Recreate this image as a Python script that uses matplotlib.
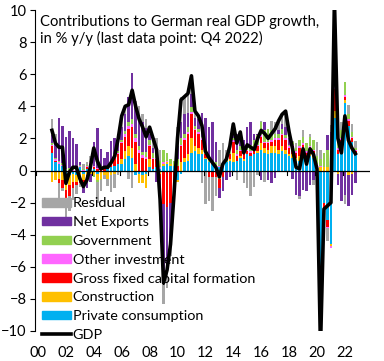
import numpy as np
import matplotlib
matplotlib.use("Agg")
import matplotlib.pyplot as plt
from matplotlib.patches import Patch
from matplotlib.lines import Line2D

plt.rcParams['font.family'] = ['Lato', 'DejaVu Sans']

# Quarterly data Q1 2001 .. Q4 2022 (contributions in pp, GDP in % y/y)
start_year = 2001
private_consumption = [1.1,0.5,0.4,0.3,-0.4,-0.3,-0.2,-0.3,0.2,-0.2,0.1,0.2,
 0.1,-0.2,-0.1,0.0,0.1,0.2,0.3,0.4,0.4,0.7,0.9,0.8,
 -0.3,-0.2,-0.3,-0.2,0.2,0.1,0.2,0.1,0.3,0.4,0.3,0.3,
 -0.6,-0.2,0.5,0.6,1.1,1.2,1.0,1.0,0.7,0.5,0.4,0.3,
 0.2,0.4,0.5,0.6,0.5,0.6,0.8,0.6,1.0,0.9,1.0,1.1,
 1.3,1.1,1.0,1.1,1.1,1.0,1.2,1.0,0.9,0.8,0.6,0.6,
 0.9,0.7,0.9,0.8,-0.5,-7.0,-2.0,-3.1,-4.55,3.3,1.0,1.6,
 4.2,2.8,1.8,1.0]
construction = [-0.7,-0.6,-0.5,-0.6,-0.8,-0.6,-0.5,-0.4,-0.5,-0.4,-0.3,-0.2,
 -0.3,-0.4,-0.4,-0.3,-0.5,-0.3,-0.2,0.0,0.3,0.5,0.6,0.6,
 0.4,-0.6,-0.5,-0.9,0.5,0.0,-0.1,-0.2,0.1,0.1,0.1,0.0,
 -0.1,0.5,0.3,0.4,0.9,0.3,0.4,0.3,0.1,-0.1,0.0,0.0,
 -0.5,-0.1,0.0,0.1,0.6,0.0,0.1,0.1,-0.1,0.0,0.0,0.1,
 0.4,0.3,0.3,0.4,0.4,0.3,0.3,0.3,0.1,0.2,0.2,0.3,
 0.3,0.1,0.2,0.2,0.3,0.2,0.2,0.2,-0.15,0.4,-0.2,-0.1,
 0.2,-0.3,-0.2,-0.1]
gross_fixed_capital = [0.4,0.1,-0.3,-0.5,-0.8,-0.7,-0.4,-0.2,-0.3,-0.2,0.1,0.2,
 0.1,0.1,0.2,0.2,0.1,0.3,0.5,0.6,1.0,0.9,1.1,1.3,
 1.4,1.1,0.8,0.7,0.8,0.6,0.5,-0.3,-2.1,-2.3,-2.0,-1.4,
 0.3,1.0,1.1,1.3,1.5,1.0,0.9,0.6,0.2,-0.3,-0.4,-0.4,
 -0.6,-0.3,0.0,0.3,0.7,0.3,0.3,0.3,0.2,0.2,0.3,0.3,
 0.4,0.3,0.4,0.3,0.4,0.6,0.7,0.6,0.4,0.5,0.3,0.5,
 0.4,0.3,0.3,0.2,-0.3,-1.5,-0.7,-0.45,0.4,1.4,0.3,0.3,
 0.2,0.3,0.2,0.2]
other_investment = [0.1,0.1,0.1,0.05,0.0,0.05,0.05,0.05,0.05,0.05,0.05,0.1,
 0.05,0.05,0.05,0.05,0.05,0.05,0.1,0.1,0.1,0.15,0.15,0.2,
 0.2,0.2,0.15,0.15,0.1,0.1,0.1,0.1,0.1,0.1,0.0,0.0,
 0.0,0.1,0.1,0.1,0.15,0.1,0.1,0.1,0.05,0.05,0.05,0.05,
 0.05,0.05,0.05,0.05,0.1,0.1,0.1,0.1,0.1,0.1,0.1,0.1,
 0.1,0.1,0.1,0.1,0.1,0.1,0.1,0.1,0.1,0.1,0.1,0.1,
 0.1,0.1,0.1,0.1,0.1,0.1,0.0,-0.05,-0.15,0.1,0.1,0.1,
 0.1,0.1,0.1,0.1]
government = [0.1,0.1,0.1,0.1,0.1,0.1,0.1,0.1,0.1,0.05,0.1,0.1,
 -0.1,-0.1,-0.1,0.0,0.0,0.0,0.1,0.1,0.1,0.2,0.25,0.3,
 0.3,0.2,0.2,0.3,0.3,0.3,0.3,0.4,0.8,0.5,0.3,0.3,
 0.4,0.4,0.3,0.3,0.3,0.2,0.2,0.1,0.1,0.15,0.15,0.15,
 0.1,0.1,0.1,0.1,0.1,0.3,0.2,0.2,0.3,0.4,0.5,0.6,
 0.8,0.7,0.8,0.6,0.3,0.3,0.3,0.2,0.1,0.2,0.2,0.4,
 0.4,0.5,0.6,0.6,0.5,0.4,0.9,1.1,1.0,1.0,0.5,0.5,
 0.8,0.3,0.3,0.1]
net_exports = [0.5,0.9,2.7,2.3,2.0,2.3,1.9,1.5,0.2,-0.6,-0.8,-0.5,
 1.5,2.5,1.1,0.5,0.9,1.3,1.0,1.1,0.8,1.1,1.6,2.9,
 1.8,1.6,1.9,1.5,0.4,0.3,-0.6,-2.6,-4.6,-3.8,-2.5,-0.4,
 0.8,1.0,1.2,0.9,0.8,0.5,0.6,1.5,2.15,2.0,2.4,1.3,
 -0.6,-0.9,-0.6,-0.4,0.4,1.0,0.6,0.6,1.1,1.45,0.4,0.1,
 -0.6,0.5,-0.6,-0.8,-0.45,0.2,0.3,0.5,0.4,-0.5,-1.5,-1.6,
 -1.2,-1.3,-0.9,-0.6,-0.9,-3.8,-0.6,0.9,1.0,2.4,-0.7,-1.8,
 -1.5,-1.9,-1.3,-0.7]
residual = [1.0,0.6,-1.05,-0.2,-0.9,-0.95,-0.75,-0.55,-0.25,0.3,0.15,0.3,
 0.05,-1.35,-0.65,-0.25,-0.45,-1.05,-0.9,-0.3,0.7,0.45,-0.5,-1.1,
 0.2,0.9,0.45,0.55,0.4,0.6,0.9,0.7,-1.6,-1.2,-0.8,-0.3,
 1.2,1.6,1.1,1.2,1.15,0.4,0.2,-0.8,-2.1,-1.5,-2.1,-1.2,
 0.95,1.15,0.65,0.75,0.5,-0.6,0.3,-0.8,-1.0,-1.6,-1.0,-0.3,
 0.1,-0.7,0.0,0.6,0.75,0.6,0.6,1.0,0.4,0.05,0.3,-0.2,
 0.45,0.0,0.15,-0.3,0.9,0.6,-0.2,-0.8,0.45,2.0,1.0,0.5,
 -0.6,0.6,0.5,0.45]
gdp = [2.5,1.7,1.45,1.45,-0.8,-0.1,0.2,0.2,-0.5,-1.0,-0.6,0.2,
 1.4,0.6,0.1,0.2,0.2,0.5,0.9,2.0,3.4,4.0,4.1,5.0,
 4.0,3.2,2.7,2.1,2.7,2.0,1.3,-1.8,-7.0,-6.2,-4.6,-1.5,
 2.0,4.4,4.6,4.8,5.9,3.7,3.4,2.8,1.2,0.8,0.5,0.2,
 -0.4,0.4,0.7,1.5,2.9,1.7,2.4,1.1,1.6,1.45,1.3,2.0,
 2.5,2.3,2.0,2.3,2.6,3.1,3.5,3.7,2.4,1.35,0.2,0.1,
 1.35,0.4,1.35,1.0,0.1,-11.0,-2.4,-2.2,-2.0,10.6,2.0,1.1,
 3.4,1.9,1.4,1.05]

series = [
    ("Private consumption", private_consumption, "#00B0F0"),
    ("Construction", construction, "#FFC000"),
    ("Gross fixed capital formation", gross_fixed_capital, "#FF0000"),
    ("Other investment", other_investment, "#FF66FF"),
    ("Government", government, "#92D050"),
    ("Net Exports", net_exports, "#7030A0"),
    ("Residual", residual, "#A6A6A6"),
]

tick_years = list(range(2000, 2023, 2))
tick_labels = ["%02d" % (y % 100) for y in tick_years]
title = "Contributions to German real GDP growth,\nin % y/y (last data point: Q4 2022)"

n = len(gdp)
x = start_year + np.arange(n) / 4.0

fig = plt.figure(figsize=(3.84, 3.61), dpi=100)
ax = fig.add_axes([35/384, 30/361, 335/384, 321/361])

pos_bottom = np.zeros(n)
neg_bottom = np.zeros(n)
for name, vals, col in series:
    v = np.array(vals, dtype=float)
    b = np.where(v >= 0, pos_bottom, neg_bottom)
    ax.bar(x, v, width=0.18, bottom=b, color=col, linewidth=0, zorder=2)
    pos_bottom = pos_bottom + np.where(v >= 0, v, 0)
    neg_bottom = neg_bottom + np.where(v < 0, v, 0)

ax.plot(x, gdp, color="black", lw=2.6, zorder=4, solid_joinstyle='round')

ax.set_xlim(1999.785, 2023.8)
ax.set_ylim(-10, 10)
ax.set_yticks(range(-10, 11, 2))
ax.tick_params(axis='y', direction='out', length=3.5, width=0.8, pad=2.5, labelsize=10.5)
ax.set_xticks(tick_years)
ax.set_xticklabels(tick_labels)
ax.tick_params(axis='x', length=0, pad=11, labelsize=10.5)
for s in ['top', 'right', 'bottom']:
    ax.spines[s].set_visible(False)
ax.spines['left'].set_linewidth(0.8)

ax.axhline(0, color='black', lw=0.9, zorder=3)
for yr in tick_years:
    ax.plot([yr - 0.125, yr - 0.125], [0, -0.25], color='black', lw=0.8, zorder=3)

ax.text(0.015, 0.985, title, transform=ax.transAxes, ha='left', va='top',
        fontsize=10.6, linespacing=1.2)

handles = [Patch(color=c) for _, _, c in reversed(series)]
labels = [nm for nm, _, _ in reversed(series)]
handles.append(Line2D([], [], color='black', lw=2.6))
labels.append("GDP")
ax.legend(handles, labels, loc='upper left', bbox_to_anchor=(0.02, 0.416),
          frameon=False, fontsize=10.4, handlelength=2.0, handleheight=0.55,
          handletextpad=0.15, labelspacing=0.47, borderpad=0, borderaxespad=0)

fig.savefig("out.png", dpi=100)
